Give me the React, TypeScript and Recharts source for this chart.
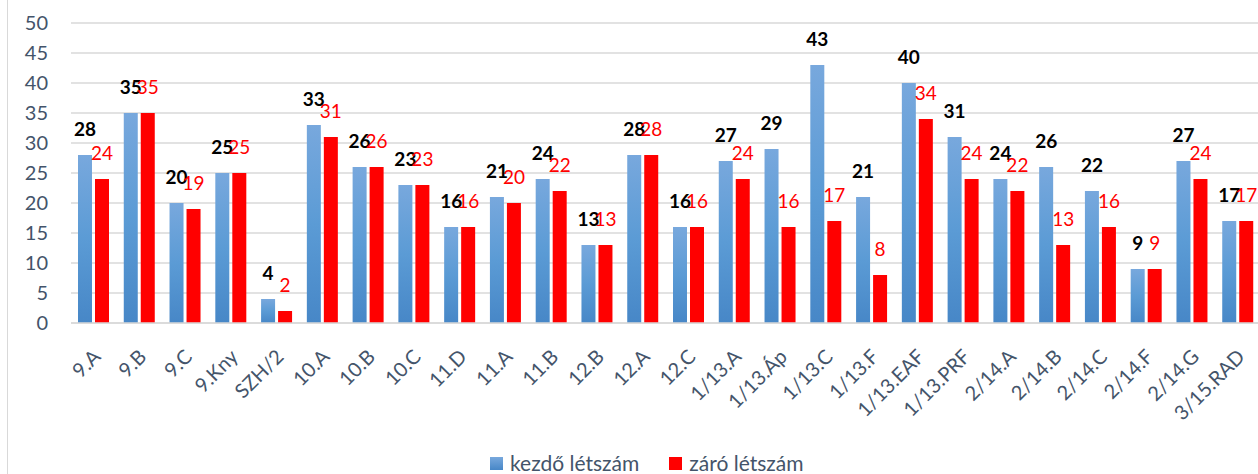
import { BarChart, Bar, XAxis, YAxis, CartesianGrid, LabelList } from "recharts";

const classes = [
  "9.A", "9.B", "9.C", "9.Kny", "SZH/2", "10.A", "10.B", "10.C", "11.D", "11.A",
  "11.B", "12.B", "12.A", "12.C", "1/13.A", "1/13.Áp", "1/13.C", "1/13.F", "1/13.EAF",
  "1/13.PRF", "2/14.A", "2/14.B", "2/14.C", "2/14.F", "2/14.G", "3/15.RAD",
];
const kezdo = [28, 35, 20, 25, 4, 33, 26, 23, 16, 21, 24, 13, 28, 16, 27, 29, 43, 21, 40, 31, 24, 26, 22, 9, 27, 17];
const zaro = [24, 35, 19, 25, 2, 31, 26, 23, 16, 20, 22, 13, 28, 16, 24, 16, 17, 8, 34, 24, 22, 13, 16, 9, 24, 17];
const yTicks = [0, 5, 10, 15, 20, 25, 30, 35, 40, 45, 50];

const data = classes.map((name, i) => ({ name, kezdo: kezdo[i], zaro: zaro[i] }));

const FONT = "Lato, 'Open Sans', sans-serif";
const AXIS = "#44546A";

const XTick = (props: any) => {
  const { x, y, payload } = props;
  return (
    <text
      transform={`translate(${x + 8},${y + 27}) rotate(-45)`}
      textAnchor="end"
      fill={AXIS}
      fontSize={20}
      fontFamily={FONT}
    >
      {payload.value}
    </text>
  );
};

const makeLabel = (color: string, bold: boolean) => (props: any) => {
  const { x, y, width, value } = props;
  return (
    <text
      x={x + width / 2}
      y={y - 19}
      textAnchor="middle"
      fill={color}
      fontSize={19}
      fontWeight={bold ? 700 : 400}
      fontFamily={FONT}
    >
      {value}
    </text>
  );
};

export default function App() {
  return (
    <div
      style={{
        position: "absolute",
        left: 0,
        top: 0,
        width: 1258,
        height: 474,
        overflow: "hidden",
        background: "#fff",
      }}
    >
      <div style={{ position: "absolute", left: 7, top: 0, width: 1, height: 474, background: "#D9D9D9" }} />
      <BarChart
        width={1261}
        height={474}
        data={data}
        margin={{ top: 23, right: 0, bottom: 0, left: 0 }}
        barCategoryGap={7}
        barGap={3}
      >
        <defs>
          <linearGradient id="blueGrad" x1="0" y1="0" x2="0" y2="1">
            <stop offset="0%" stopColor="#78A8DD" />
            <stop offset="50%" stopColor="#5B9BD5" />
            <stop offset="100%" stopColor="#4787C7" />
          </linearGradient>
        </defs>
        <CartesianGrid vertical={false} stroke="#D9D9D9" strokeWidth={1.5} />
        <XAxis
          dataKey="name"
          interval={0}
          tick={<XTick />}
          tickLine={false}
          axisLine={{ stroke: "#D9D9D9", strokeWidth: 1.5 }}
          height={151}
        />
        <YAxis
          domain={[0, 50]}
          ticks={yTicks}
          width={71}
          tickLine={false}
          axisLine={false}
          tickSize={0}
          tickMargin={23}
          tick={{ fill: AXIS, fontSize: 20, fontFamily: FONT }}
        />
        <Bar dataKey="kezdo" name="kezdő létszám" fill="url(#blueGrad)" isAnimationActive={false}>
          <LabelList dataKey="kezdo" content={makeLabel("#000000", true)} />
        </Bar>
        <Bar dataKey="zaro" name="záró létszám" fill="#FF0000" isAnimationActive={false}>
          <LabelList dataKey="zaro" content={makeLabel("#FF0000", false)} />
        </Bar>
      </BarChart>
      <div
        style={{
          position: "absolute",
          left: 490,
          top: 451,
          display: "flex",
          alignItems: "center",
          fontFamily: FONT,
          fontSize: 21,
          lineHeight: "24px",
          color: AXIS,
          whiteSpace: "nowrap",
        }}
      >
        <span
          style={{
            width: 13,
            height: 13,
            marginRight: 7,
            background: "linear-gradient(#78A8DD, #4787C7)",
            display: "inline-block",
          }}
        />
        <span>kezdő létszám</span>
        <span
          style={{ width: 13, height: 13, marginLeft: 30, marginRight: 7, background: "#FF0000", display: "inline-block" }}
        />
        <span>záró létszám</span>
      </div>
    </div>
  );
}
